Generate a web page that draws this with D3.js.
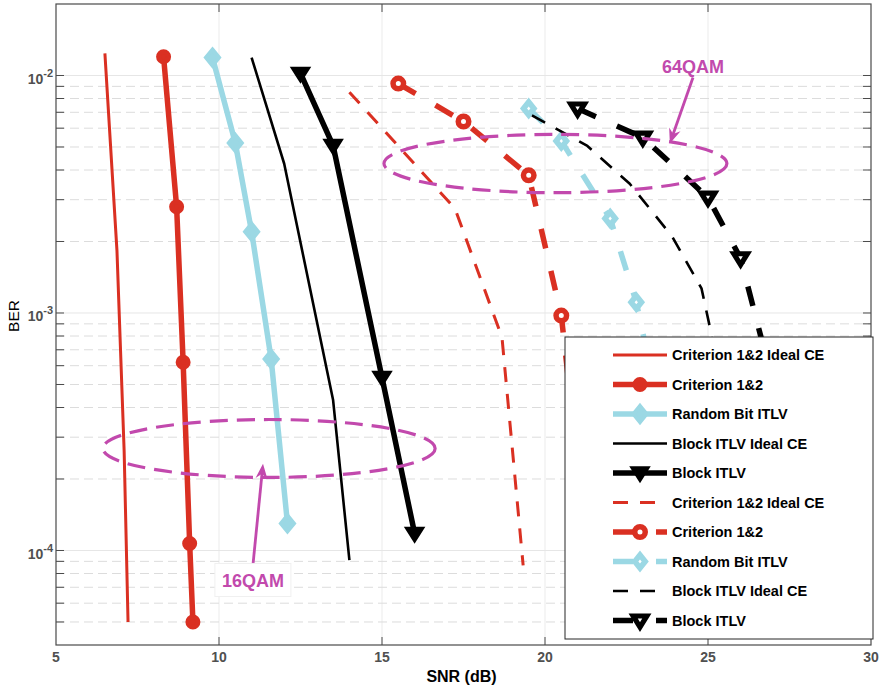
<!DOCTYPE html>
<html lang="en">
<head>
<meta charset="UTF-8">
<script src="https://d3js.org/d3.v7.min.js"></script>
<title>BER vs SNR</title>
<style>
    body { margin: 0; background: #fff; }
    text { font-family: "Liberation Sans", Arial, sans-serif; }
</style>
</head>
<body>
<svg id="chart" width="881" height="690"></svg>
<script>
// 16QAM curves
const critIdeal16Snr = [6.5, 6.87, 7.09, 7.21];
const critIdeal16Ber = [1.24e-2, 1.83e-3, 2.63e-4, 5.0e-5];
const crit16Snr = [8.3, 8.7, 8.9, 9.1, 9.2];
const crit16Ber = [1.2e-2, 2.8e-3, 6.2e-4, 1.07e-4, 5.0e-5];
const rand16Snr = [9.8, 10.5, 11.0, 11.6, 12.1];
const rand16Ber = [1.19e-2, 5.2e-3, 2.2e-3, 6.4e-4, 1.3e-4];
const blockIdeal16Snr = [11, 12, 13.5, 14];
const blockIdeal16Ber = [1.19e-2, 4.25e-3, 4.3e-4, 9.1e-5];
const block16Snr = [12.5, 13.5, 15, 16];
const block16Ber = [1.02e-2, 5.07e-3, 5.35e-4, 1.18e-4];

// 64QAM curves
const critIdeal64Snr = [14.0, 17.24, 18.68, 19.33];
const critIdeal64Ber = [8.5e-3, 2.75e-3, 7.9e-4, 8.65e-5];
const crit64Snr = [15.5, 17.5, 19.5, 20.5, 21.3];
const crit64Ber = [9.25e-3, 6.4e-3, 3.8e-3, 9.75e-4, 1.0e-4];
const rand64Snr = [19.5, 20.5, 22.0, 22.8, 23.8];
const rand64Ber = [7.26e-3, 5.3e-3, 2.5e-3, 1.11e-3, 2.5e-4];
const blockIdeal64Snr = [19.6, 21.3, 22.6, 23.9, 24.8, 25.1, 25.6];
const blockIdeal64Ber = [6.8e-3, 5.05e-3, 3.5e-3, 2.1e-3, 1.27e-3, 8.2e-4, 1.0e-4];
const block64Snr = [21, 23, 25, 26, 27];
const block64Ber = [7.26e-3, 5.48e-3, 3.06e-3, 1.7e-3, 5.0e-4];

const legendLabels = ["Criterion 1&2 Ideal CE", "Criterion 1&2", "Random Bit ITLV", "Block ITLV Ideal CE", "Block ITLV",
                      "Criterion 1&2 Ideal CE", "Criterion 1&2", "Random Bit ITLV", "Block ITLV Ideal CE", "Block ITLV"];
const xTicks = [5, 10, 15, 20, 25, 30];
const yMajorTicks = [1e-2, 1e-3, 1e-4];
const yTickExp = ["-2", "-3", "-4"];

const red = "#da3022", blue = "#9bd8e4", black = "#000", magenta = "#c249ad";
const thinDash = "15,12", thickDash = "20,23";

const series = [
    { snr: critIdeal16Snr, ber: critIdeal16Ber, color: red, w: 3 },
    { snr: crit16Snr, ber: crit16Ber, color: red, w: 5.5, marker: "circle", filled: true },
    { snr: rand16Snr, ber: rand16Ber, color: blue, w: 5.5, marker: "diamond", filled: true },
    { snr: blockIdeal16Snr, ber: blockIdeal16Ber, color: black, w: 2.6 },
    { snr: block16Snr, ber: block16Ber, color: black, w: 5.5, marker: "triangle", filled: true },
    { snr: critIdeal64Snr, ber: critIdeal64Ber, color: red, w: 3, dash: thinDash },
    { snr: crit64Snr, ber: crit64Ber, color: red, w: 5.5, dash: thickDash, marker: "circle" },
    { snr: rand64Snr, ber: rand64Ber, color: blue, w: 5.5, dash: thickDash, marker: "diamond" },
    { snr: blockIdeal64Snr, ber: blockIdeal64Ber, color: black, w: 2.6, dash: thinDash },
    { snr: block64Snr, ber: block64Ber, color: black, w: 5.5, dash: thickDash, marker: "triangle" }
];

const svg = d3.select("#chart");
const margin = { top: 4, left: 56 };
const width = 815, height = 641;

const x = d3.scaleLinear().domain([5, 30]).range([0, width]);
const y = d3.scaleLog().domain([4e-5, 2e-2]).range([height, 0]);

const g = svg.append("g")
    .attr("transform", "translate(" + margin.left + "," + margin.top + ")");

// minor decade values
const yMinor = [];
[-5, -4, -3, -2].forEach(e => {
    for (let m = 2; m <= 9; m++) {
        const v = m * Math.pow(10, e);
        if (v > 4.01e-5 && v < 1.99e-2) yMinor.push(v);
    }
});

// grid
g.selectAll(".xgrid").data(xTicks.slice(1, -1)).enter().append("line")
    .attr("x1", d => x(d)).attr("x2", d => x(d))
    .attr("y1", 0).attr("y2", height)
    .attr("stroke", "#ebebeb").attr("stroke-width", 1);

g.selectAll(".ymin").data(yMinor).enter().append("line")
    .attr("x1", 0).attr("x2", width)
    .attr("y1", d => y(d)).attr("y2", d => y(d))
    .attr("stroke", "#dcdcdc").attr("stroke-width", 1)
    .attr("stroke-dasharray", "9,5");

g.selectAll(".ymaj").data(yMajorTicks).enter().append("line")
    .attr("x1", 0).attr("x2", width)
    .attr("y1", d => y(d)).attr("y2", d => y(d))
    .attr("stroke", "#e6e6e6").attr("stroke-width", 1);

// marker shapes: filled ones for 16QAM, thick-edged with a small white core for 64QAM
function markerPath(type, filled) {
    if (type === "circle") return filled ? "M5,0A5,5 0 1,1 -5,0A5,5 0 1,1 5,0Z" : "M5.25,0A5.25,5.25 0 1,1 -5.25,0A5.25,5.25 0 1,1 5.25,0Z";
    if (type === "diamond") return filled ? "M0,-8L6.5,0L0,8L-6.5,0Z" : "M0,-6.5L5.2,0L0,6.5L-5.2,0Z";
    return filled ? "M-8.5,-5.5L8.5,-5.5L0,8Z" : "M-6.8,-4.5L6.8,-4.5L0,6.5Z";
}
function markerStroke(type, filled) {
    if (type === "circle") return filled ? 5 : 5.5;
    if (type === "diamond") return filled ? 4 : 5.6;
    return filled ? 2.5 : 5.2;
}

const line = d3.line().x(d => x(d[0])).y(d => y(d[1]));

series.forEach(s => {
    const pts = d3.zip(s.snr, s.ber);
    g.append("path")
        .datum(pts)
        .attr("d", line)
        .attr("fill", "none")
        .attr("stroke", s.color)
        .attr("stroke-width", s.w)
        .attr("stroke-linejoin", "round")
        .attr("stroke-dasharray", s.dash || null);

    if (s.marker) {
        g.selectAll(null).data(pts).enter().append("path")
            .attr("transform", d => "translate(" + x(d[0]) + "," + y(d[1]) + ")")
            .attr("d", markerPath(s.marker, s.filled))
            .attr("fill", s.filled ? s.color : "#fff")
            .attr("stroke", s.color)
            .attr("stroke-width", markerStroke(s.marker, s.filled));
    }
});

// annotations
function ellipse(snrL, snrR, berT, berB) {
    g.append("ellipse")
        .attr("cx", (x(snrL) + x(snrR)) / 2)
        .attr("cy", (y(berT) + y(berB)) / 2)
        .attr("rx", (x(snrR) - x(snrL)) / 2)
        .attr("ry", (y(berB) - y(berT)) / 2)
        .attr("fill", "none")
        .attr("stroke", magenta)
        .attr("stroke-width", 3.2)
        .attr("stroke-dasharray", "18,9");
}

function arrow(s0, b0, s1, b1) {
    const x0 = x(s0), y0 = y(b0), x1 = x(s1), y1 = y(b1);
    const len = Math.hypot(x1 - x0, y1 - y0);
    const ux = (x1 - x0) / len, uy = (y1 - y0) / len;
    const nx = -uy, ny = ux;
    g.append("line")
        .attr("x1", x0).attr("y1", y0)
        .attr("x2", x1 - 9 * ux).attr("y2", y1 - 9 * uy)
        .attr("stroke", magenta).attr("stroke-width", 2.8);
    const head = [
        [x1, y1],
        [x1 - 15 * ux + 6 * nx, y1 - 15 * uy + 6 * ny],
        [x1 - 10 * ux, y1 - 10 * uy],
        [x1 - 15 * ux - 6 * nx, y1 - 15 * uy - 6 * ny]
    ];
    g.append("path")
        .attr("d", "M" + head.join("L") + "Z")
        .attr("fill", magenta);
}

ellipse(6.44, 16.63, 3.56e-4, 2.03e-4);
ellipse(15.06, 25.58, 5.65e-3, 3.21e-3);

arrow(11.04, 8.65e-5, 11.35, 2.32e-4);
arrow(24.54, 9.8e-3, 23.83, 5.17e-3);

g.append("rect")
    .attr("x", x(11.04) - 38).attr("y", y(8.65e-5) - 2)
    .attr("width", 76).attr("height", 33)
    .attr("fill", "#fff").attr("stroke", "#f0f0f0");

g.append("text")
    .attr("x", x(11.04)).attr("y", y(8.65e-5) + 22)
    .attr("text-anchor", "middle")
    .attr("font-size", 18).attr("font-weight", "bold")
    .attr("fill", magenta)
    .text("16QAM");

g.append("text")
    .attr("x", x(24.54)).attr("y", y(9.8e-3) - 5)
    .attr("text-anchor", "middle")
    .attr("font-size", 18).attr("font-weight", "bold")
    .attr("fill", magenta)
    .text("64QAM");

// axes box and ticks
const axisColor = "#4a4a4a";
g.append("rect")
    .attr("width", width).attr("height", height)
    .attr("fill", "none").attr("stroke", axisColor).attr("stroke-width", 1.2);

const yAll = yMajorTicks.concat(yMinor);
[0, width].forEach(x0 => {
    const dir = x0 === 0 ? 1 : -1;
    g.selectAll(null).data(yAll).enter().append("line")
        .attr("x1", x0).attr("x2", x0 + dir * 8)
        .attr("y1", d => y(d)).attr("y2", d => y(d))
        .attr("stroke", axisColor).attr("stroke-width", 1);
});
[0, height].forEach(y0 => {
    const dir = y0 === 0 ? 1 : -1;
    g.selectAll(null).data(xTicks.slice(1, -1)).enter().append("line")
        .attr("x1", d => x(d)).attr("x2", d => x(d))
        .attr("y1", y0).attr("y2", y0 + dir * 8)
        .attr("stroke", axisColor).attr("stroke-width", 1);
});

g.selectAll(".xlab").data(xTicks).enter().append("text")
    .attr("x", d => x(d)).attr("y", height + 17)
    .attr("text-anchor", "middle")
    .attr("font-size", 14).attr("font-weight", "bold")
    .attr("fill", "#505050")
    .text(d => d);

const ylab = g.selectAll(".ylab").data(yMajorTicks).enter().append("text")
    .attr("x", -3).attr("y", d => y(d) + 8.5)
    .attr("text-anchor", "end")
    .attr("font-size", 14).attr("font-weight", "bold")
    .attr("fill", "#505050");
ylab.append("tspan").text("10");
ylab.append("tspan")
    .attr("dy", -7).attr("font-size", 11)
    .text((d, i) => yTickExp[i]);

svg.append("text")
    .attr("x", margin.left + width / 2 - 2).attr("y", 682)
    .attr("text-anchor", "middle")
    .attr("font-size", 16).attr("font-weight", "bold")
    .text("SNR (dB)");

svg.append("text")
    .attr("transform", "translate(19,316) rotate(-90)")
    .attr("text-anchor", "middle")
    .attr("font-size", 15.5)
    .text("BER");

// legend
const lg = svg.append("g").attr("transform", "translate(565,337)");
lg.append("rect")
    .attr("width", 308).attr("height", 302)
    .attr("fill", "#fff").attr("stroke", "#262626").attr("stroke-width", 1);

series.forEach((s, i) => {
    const ly = 18 + i * 29.5;
    lg.append("line")
        .attr("x1", 48).attr("x2", 102)
        .attr("y1", ly).attr("y2", ly)
        .attr("stroke", s.color).attr("stroke-width", s.w)
        .attr("stroke-dasharray", s.dash || null);
    if (s.marker) {
        lg.append("path")
            .attr("transform", "translate(75," + ly + ")")
            .attr("d", markerPath(s.marker, s.filled))
            .attr("fill", s.filled ? s.color : "#fff")
            .attr("stroke", s.color)
            .attr("stroke-width", markerStroke(s.marker, s.filled));
    }
    lg.append("text")
        .attr("x", 107).attr("y", ly + 5)
        .attr("font-size", 14.5).attr("font-weight", "bold")
        .text(legendLabels[i]);
});
</script>
</body>
</html>
